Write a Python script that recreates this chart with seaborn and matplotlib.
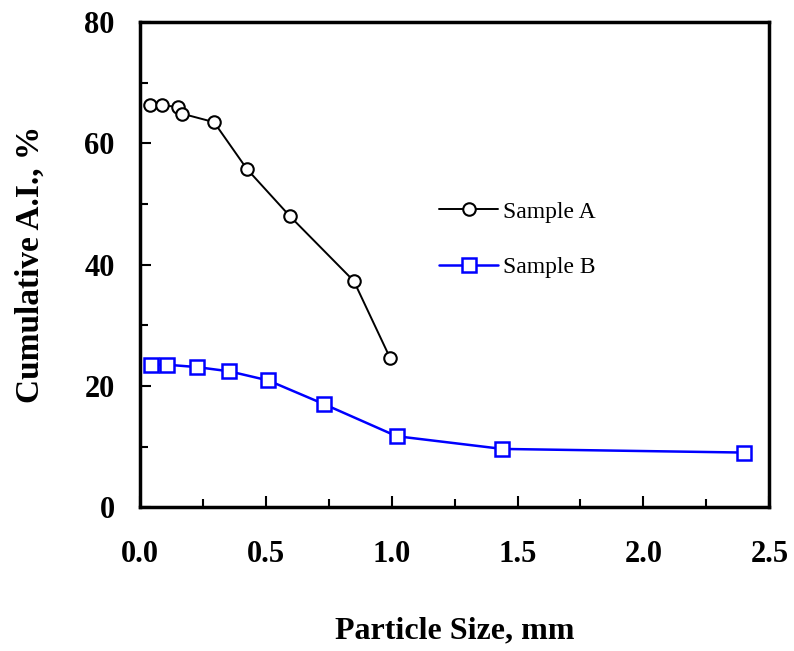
import numpy as np
import pandas as pd
import matplotlib
matplotlib.use("Agg")
import matplotlib.pyplot as plt
import seaborn as sns
from matplotlib.ticker import MultipleLocator

# Data
size_a = [0.04, 0.09, 0.15, 0.168, 0.295, 0.425, 0.596, 0.85, 0.994]
ai_a = [66.3, 66.3, 66.0, 64.9, 63.5, 55.8, 48.0, 37.3, 24.6]
size_b = [0.046, 0.107, 0.227, 0.356, 0.51, 0.731, 1.02, 1.44, 2.40]
ai_b = [23.5, 23.5, 23.1, 22.4, 20.9, 17.0, 11.7, 9.6, 9.0]
labels = ["Sample A", "Sample B"]

df_a = pd.DataFrame({"x": size_a, "y": ai_a})
df_b = pd.DataFrame({"x": size_b, "y": ai_b})

sns.set_style("ticks")
plt.rcParams['font.family'] = ['Liberation Serif', 'DejaVu Serif']
plt.rcParams['text.color'] = 'black'
plt.rcParams['axes.labelcolor'] = 'black'

fig, ax = plt.subplots(figsize=(7.94, 6.51), dpi=100)
fig.subplots_adjust(left=0.176, right=0.969, bottom=0.221, top=0.966)

sns.lineplot(data=df_a, x="x", y="y", ax=ax, color="black", lw=1.4,
             marker="o", markersize=9, markerfacecolor="white",
             markeredgecolor="black", markeredgewidth=1.5, label=labels[0],
             sort=False)
sns.lineplot(data=df_b, x="x", y="y", ax=ax, color="blue", lw=1.8,
             marker="s", markersize=9.5, markerfacecolor="white",
             markeredgecolor="blue", markeredgewidth=1.8, label=labels[1],
             sort=False)

ax.set_xlim(0, 2.5)
ax.set_ylim(0, 80)
ax.xaxis.set_major_locator(MultipleLocator(0.5))
ax.xaxis.set_minor_locator(MultipleLocator(0.25))
ax.yaxis.set_major_locator(MultipleLocator(20))
ax.yaxis.set_minor_locator(MultipleLocator(10))
ax.xaxis.set_major_formatter(matplotlib.ticker.FormatStrFormatter("%.1f"))

for s in ax.spines.values():
    s.set_linewidth(2.5)
    s.set_color("black")
    s.set_visible(True)

ax.tick_params(which="both", direction="in", width=1.5, colors="black",
               labelcolor="black", labelsize=22, top=False, right=False)
ax.tick_params(which="major", length=8)
ax.tick_params(which="minor", length=6)
ax.tick_params(axis="x", which="major", pad=24)
ax.tick_params(axis="y", which="major", pad=18)
for lab in ax.get_xticklabels() + ax.get_yticklabels():
    lab.set_fontweight("bold")

ax.set_xlabel("Particle Size, mm", fontsize=23, fontweight="bold", labelpad=34)
ax.set_ylabel("Cumulative A.I., %", fontsize=24, fontweight="bold", labelpad=28)

leg = ax.legend(loc="upper left", bbox_to_anchor=(0.442, 0.675), frameon=False,
                fontsize=17, handlelength=2.5, labelspacing=1.45,
                handletextpad=0.2)

fig.savefig("out.png", dpi=100)
